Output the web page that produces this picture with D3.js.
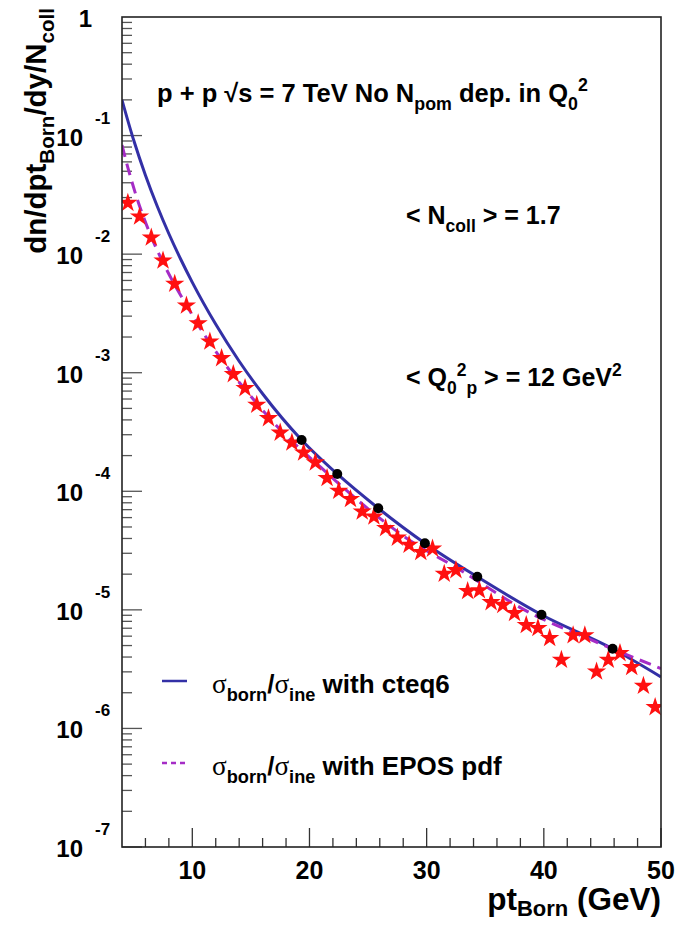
<!DOCTYPE html>
<html>
<head>
<meta charset="utf-8">
<script src="https://cdn.jsdelivr.net/npm/d3@7"></script>
<style>
  body { margin: 0; background: #fff; }
  text { font-family: "Liberation Sans", Arial, Helvetica, sans-serif; font-weight: bold; white-space: pre; }
</style>
</head>
<body>
<svg id="chart" width="677" height="925"></svg>
<script>
// ---- data ----
// Born-level pt spectrum (stars), 1 GeV bins
const ptStars = [4.5, 5.5, 6.5, 7.5, 8.5, 9.5, 10.5, 11.5, 12.5, 13.5, 14.5, 15.5, 16.5, 17.5, 18.5,
  19.5, 20.5, 21.5, 22.5, 23.5, 24.5, 25.5, 26.5, 27.5, 28.5, 29.5, 30.5, 31.5, 32.5, 33.5, 34.5,
  35.5, 36.5, 37.5, 38.5, 39.5, 40.5, 41.5, 42.5, 43.5, 44.5, 45.5, 46.5, 47.5, 48.5, 49.5];
const starValues = [0.0270, 0.0207, 0.01377, 0.00881, 0.00561, 0.00368, 0.00261, 0.00183, 0.001325,
  9.71e-4, 7.40e-4, 5.35e-4, 4.13e-4, 3.12e-4, 2.57e-4, 2.12e-4, 1.75e-4, 1.29e-4, 1.01e-4, 8.58e-5,
  6.74e-5, 6.12e-5, 4.89e-5, 4.06e-5, 3.53e-5, 3.07e-5, 3.28e-5, 2.01e-5, 2.16e-5, 1.44e-5, 1.46e-5,
  1.16e-5, 1.10e-5, 9.38e-6, 7.43e-6, 7.01e-6, 5.77e-6, 3.79e-6, 6.10e-6, 6.10e-6, 3.02e-6, 3.79e-6,
  4.31e-6, 3.29e-6, 2.29e-6, 1.51e-6];

// black reference points
const ptDots = [19.33, 22.37, 25.87, 29.85, 34.32, 39.8, 45.87];
const dotValues = [2.71e-4, 1.40e-4, 7.2e-5, 3.65e-5, 1.9e-5, 9.1e-6, 4.7e-6];

// sigma_born/sigma_ine with cteq6
const ptCteq = [4, 5, 6, 7, 8, 9, 10, 12, 14, 16, 19.33, 22.37, 25.87, 29.85, 34.32, 39.8, 45.87, 50];
const cteqValues = [0.1995, 0.0912, 0.04634, 0.02547, 0.01486, 0.0091, 0.00578, 0.00256, 0.00125, 6.65e-4,
  2.71e-4, 1.40e-4, 7.2e-5, 3.65e-5, 1.9e-5, 9.1e-6, 4.7e-6, 2.72e-6];

// sigma_born/sigma_ine with EPOS pdf
const ptEpos = [4.0, 4.5, 5.25, 6.4, 7.4, 8.5, 9.5, 10.4, 11.5, 12.5, 13.5, 14.5, 17.5, 21.0, 25.4, 28.5, 32.56, 38.8, 44.0, 50];
const eposValues = [0.0832, 0.0537, 0.0302, 0.01479, 0.00891, 0.0055, 0.00372, 0.00263, 0.00178, 0.00129,
  9.55e-4, 7.24e-4, 3.31e-4, 1.58e-4, 6.6e-5, 3.89e-5, 2.26e-5, 9.45e-6, 5.6e-6, 3.2e-6];

const xTickLabels = [10, 20, 30, 40, 50];
const yExponents = [-1, -2, -3, -4, -5, -6, -7];

// ---- layout ----
const L = 122, R = 661, T = 17, B = 847;
const svg = d3.select("#chart");

const x = d3.scaleLinear().domain([4, 50]).range([L, R]);
const y = d3.scaleLog().domain([1e-7, 1]).range([B, T]);

const C_BLUE = "#3330a6", C_MAG = "#a52cc6", C_RED = "#ff1010";

// rich text helper: parts = [[string, kind]] kind: n | sub | sup | sym
function rich(sel, x0, y0, parts, size, extra, subShift) {
  const t = sel.append("text").attr("x", x0).attr("y", y0).attr("font-size", size);
  if (extra) extra(t);
  const sh = subShift || 0.3;
  let cur = 0;
  parts.forEach(([s, k]) => {
    const off = k === "sub" ? sh * size : k === "sup" ? -0.42 * size : 0;
    const ts = t.append("tspan").attr("dy", (off - cur).toFixed(2)).text(s);
    if (k === "sub" || k === "sup") ts.attr("font-size", (0.7 * size).toFixed(1));
    if (k === "sym") ts.attr("font-family", "'Liberation Serif', 'DejaVu Serif', serif").attr("font-weight", "normal").attr("font-size", (1.05 * size).toFixed(1));
    cur = off;
  });
  return t;
}

// ---- axes ticks ----
const axisG = svg.append("g");
// x ticks (point up from bottom)
const xMinor = d3.range(6, 50, 2).filter(v => v % 10 !== 0);
axisG.selectAll("line.xmin").data(xMinor).join("line")
  .attr("x1", d => x(d)).attr("x2", d => x(d)).attr("y1", B).attr("y2", B - 9)
  .attr("stroke", "#333").attr("stroke-width", 1.3);
axisG.selectAll("line.xmaj").data(xTickLabels).join("line")
  .attr("x1", d => x(d)).attr("x2", d => x(d)).attr("y1", B).attr("y2", B - 19)
  .attr("stroke", "#333").attr("stroke-width", 1.3);
axisG.selectAll("text.xl").data(xTickLabels).join("text")
  .attr("x", d => x(d)).attr("y", 879).attr("text-anchor", "middle").attr("font-size", 25).text(d => d);

// y ticks (point right from left axis)
const yMinor = [];
for (let e = -7; e < 0; e++) for (let m = 2; m <= 9; m++) yMinor.push(m * Math.pow(10, e));
axisG.selectAll("line.ymin").data(yMinor).join("line")
  .attr("x1", L).attr("x2", L + 10).attr("y1", d => y(d)).attr("y2", d => y(d))
  .attr("stroke", "#555").attr("stroke-width", 1.3);
axisG.selectAll("line.ymaj").data(yExponents).join("line")
  .attr("x1", L).attr("x2", L + 20).attr("y1", d => y(Math.pow(10, d))).attr("y2", d => y(Math.pow(10, d)))
  .attr("stroke", "#555").attr("stroke-width", 1.3);
yExponents.forEach(e => {
  const yy = y(Math.pow(10, e));
  axisG.append("text").attr("x", 83).attr("y", yy + 10).attr("text-anchor", "end").attr("font-size", 24).text("10");
  axisG.append("text").attr("x", 95).attr("y", yy - 12).attr("font-size", 17).text(String(e));
});
axisG.append("text").attr("x", 92).attr("y", y(1) + 10).attr("text-anchor", "end").attr("font-size", 24).text("1");

// ---- curves ----
svg.append("clipPath").attr("id", "frame").append("rect")
  .attr("x", L).attr("y", T).attr("width", R - L).attr("height", B - T);
const plot = svg.append("g").attr("clip-path", "url(#frame)");

const line = d3.line().x(d => x(d[0])).y(d => y(d[1])).curve(d3.curveMonotoneX);

plot.append("path").datum(d3.zip(ptCteq, cteqValues)).attr("d", line)
  .attr("fill", "none").attr("stroke", C_BLUE).attr("stroke-width", 3);
plot.append("path").datum(d3.zip(ptEpos, eposValues)).attr("d", line)
  .attr("fill", "none").attr("stroke", C_MAG).attr("stroke-width", 3).attr("stroke-dasharray", "12,7");

// stars
const star = d3.symbol().type(d3.symbolStar).size(115);
plot.selectAll("path.star").data(d3.zip(ptStars, starValues)).join("path")
  .attr("d", star).attr("transform", d => `translate(${x(d[0])},${y(d[1])})`)
  .attr("fill", C_RED);

// black points
plot.selectAll("circle.dot").data(d3.zip(ptDots, dotValues)).join("circle")
  .attr("cx", d => x(d[0])).attr("cy", d => y(d[1])).attr("r", 5).attr("fill", "#000");

// ---- frame ----
svg.append("rect").attr("x", L).attr("y", T).attr("width", R - L).attr("height", B - T)
  .attr("fill", "none").attr("stroke", "#222").attr("stroke-width", 1.6);

// ---- annotations ----
rich(svg, 157, 102, [["p + p ", "n"], ["√", "n"], ["s = 7 TeV No N", "n"], ["pom", "sub"], [" dep. in Q", "n"], ["0", "sub"], ["2", "sup"]], 25.5);
rich(svg, 406, 224, [["< N", "n"], ["coll", "sub"], [" > = 1.7", "n"]], 25);
rich(svg, 406, 386, [["< Q", "n"], ["0", "sub"], ["2", "sup"], ["p", "sub"], [" > = 12 GeV", "n"], ["2", "sup"]], 25);

// ---- legend ----
svg.append("line").attr("x1", 162).attr("x2", 187).attr("y1", 681).attr("y2", 681)
  .attr("stroke", C_BLUE).attr("stroke-width", 2.5);
rich(svg, 212, 693, [["σ", "sym"], ["born", "sub"], ["/", "n"], ["σ", "sym"], ["ine", "sub"], [" with cteq6", "n"]], 26);
svg.append("line").attr("x1", 162).attr("x2", 187).attr("y1", 763).attr("y2", 763)
  .attr("stroke", C_MAG).attr("stroke-width", 2.5).attr("stroke-dasharray", "5,4");
rich(svg, 212, 775, [["σ", "sym"], ["born", "sub"], ["/", "n"], ["σ", "sym"], ["ine", "sub"], [" with EPOS pdf", "n"]], 26);

// ---- axis titles ----
rich(svg, 661, 910, [["pt", "n"], ["Born", "sub"], [" (GeV)", "n"]], 31.5, null, 0.2)
  .attr("text-anchor", "end");
rich(svg, 0, 0, [["dn/dpt", "n"], ["Born", "sub"], ["/dy/N", "n"], ["coll", "sub"]], 29.5,
  t => t.attr("text-anchor", "end").attr("transform", "translate(46,8) rotate(-90)"), 0.27);
</script>
</body>
</html>
